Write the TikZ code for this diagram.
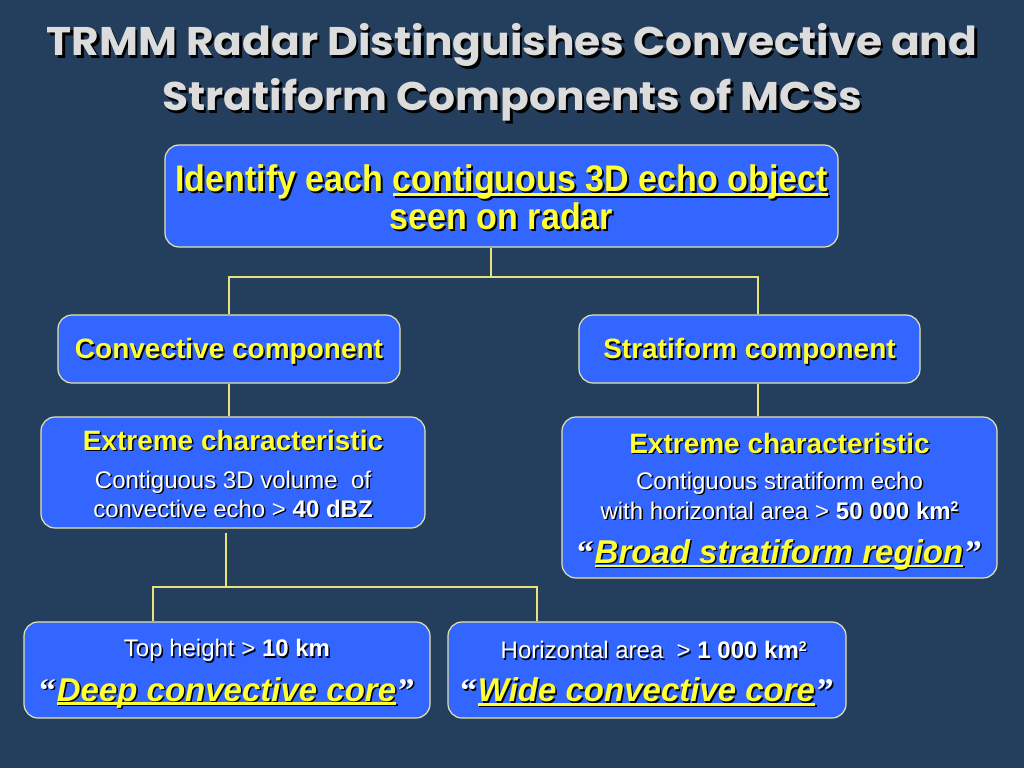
\documentclass[tikz,border=0pt]{standalone}
\usepackage{fontspec}
\setmainfont{Liberation Sans}
\newfontfamily\titlefont[FakeStretch=1.06]{Poppins}
\newfontfamily\narrowfont[FakeStretch=0.92]{Liberation Sans}
\newfontfamily\quotefont{Liberation Serif}

\definecolor{slidebg}{HTML}{243E5E}
\definecolor{boxblue}{HTML}{3366FF}
\definecolor{boxline}{HTML}{E4E4A8}
\definecolor{linkyellow}{HTML}{E8E27A}
\definecolor{hl}{HTML}{FFFF33}
\definecolor{titlegray}{HTML}{DCDCDC}

% text with a dark drop shadow
\newcommand\shad[3][1.5pt]{\makebox[0pt][l]{\kern#1\raisebox{-#1}{\color{black}#3}}{\color{#2}#3}}
% underline through the descenders
\newcommand\ulbar[1]{\setbox0\hbox{#1}\rlap{\rule[-0.11em]{\wd0}{0.07em}}\box0}
% invisible strut that pushes a box's text down
\newcommand\lift[1]{\rule{0pt}{#1}}
% small raised 2 of km2
\newcommand\sqr{\raisebox{7.5pt}{\fontsize{14}{14}\selectfont 2}}
% white curly quotes round a yellow name
\newcommand\quoted[1]{\shad{white}{\quotefont“}\kern1pt\shad{hl}{\ulbar{\itshape #1}}\kern2pt\shad{white}{\quotefont”}}

\tikzset{
  box/.style={draw=boxline, line width=1.2pt, fill=boxblue, rounded corners=14pt,
    inner sep=0pt, align=center},
  link/.style={draw=linkyellow, line width=2pt},
}

\begin{document}
\begin{tikzpicture}[x=1pt, y=-1pt]
    % slide background
    \useasboundingbox (0,0) rectangle (1024,768);
    \fill[slidebg] (0,0) rectangle (1024,768);

    % Title
    \node[align=center, font=\titlefont\bfseries\fontsize{40}{55}\selectfont] (title) at (512,74)
        {\shad[2.5pt]{titlegray}{TRMM Radar Distinguishes Convective and}\\
         \shad[2.5pt]{titlegray}{Stratiform Components of MCSs}};

    % Boxes
    \node[box, minimum width=673pt, minimum height=102pt,
        font=\narrowfont\bfseries\fontsize{37}{38}\selectfont] (top) at (501.5,196)
        {\lift{32pt}\shad[2pt]{hl}{Identify each \ulbar{contiguous 3D echo object}}\\
         \shad[2pt]{hl}{seen on radar}};

    \node[box, minimum width=342pt, minimum height=68pt,
        font=\bfseries\fontsize{28}{30}\selectfont] (conv) at (229,349)
        {\lift{27pt}\shad{hl}{Convective component}};
    \node[box, minimum width=341pt, minimum height=68pt,
        font=\bfseries\fontsize{28}{30}\selectfont] (strat) at (749.5,349)
        {\lift{27pt}\shad{hl}{Stratiform component}};

    \node[box, minimum width=384pt, minimum height=111pt,
        font=\fontsize{24}{29}\selectfont] (convx) at (233,472.5)
        {{\bfseries\fontsize{28}{30}\selectfont\lift{24pt}\shad{hl}{Extreme characteristic}}\\[9pt]
         \shad{white}{Contiguous 3D volume~ of}\\
         \shad{white}{convective echo > \textbf{40 dBZ}}};
    \node[box, minimum width=435pt, minimum height=161pt,
        font=\fontsize{24}{30}\selectfont] (stratx) at (779.5,497.5)
        {{\bfseries\fontsize{28}{30}\selectfont\lift{30pt}\shad{hl}{Extreme characteristic}}\\[6pt]
         \shad{white}{Contiguous stratiform echo}\\
         \shad{white}{with horizontal area > \textbf{50 000 km\sqr}}\\[14pt]
         {\bfseries\fontsize{33}{36}\selectfont\quoted{Broad stratiform region}}};

    \node[box, minimum width=406pt, minimum height=96pt,
        font=\fontsize{24}{30}\selectfont] (deep) at (227,670)
        {\lift{26pt}\shad{white}{Top height > \textbf{10 km}}\\[13pt]
         {\bfseries\fontsize{33}{36}\selectfont\quoted{Deep convective core}}};
    \node[box, minimum width=398pt, minimum height=96pt,
        font=\fontsize{24}{30}\selectfont] (wide) at (647,670)
        {\lift{26pt}\shad{white}{~~Horizontal area~ > \textbf{1 000 km\sqr}}\\[13pt]
         {\bfseries\fontsize{33}{36}\selectfont\quoted{Wide convective core}}};

    % Connectors
    \coordinate (s1) at (491,277);
    \draw[link] (top.south -| s1) -- (s1);
    \draw[link] (conv.north) |- (s1) -| ([xshift=8pt]strat.north);
    \draw[link] (conv.south) -- (conv.south |- convx.north);
    \coordinate (sx) at ([xshift=8pt]strat.south);
    \draw[link] (sx) -- (sx |- stratx.north);

    \coordinate (s3) at (226,587);
    \draw[link, shorten <=4pt] (convx.south -| s3) -- (s3);
    \draw[link] ([xshift=-74pt]deep.north) |- (s3) -| ([xshift=-110pt]wide.north);
\end{tikzpicture}
\end{document}
